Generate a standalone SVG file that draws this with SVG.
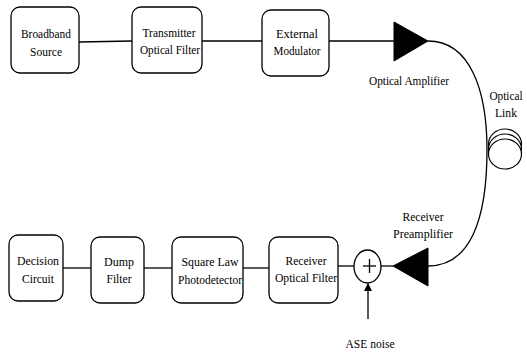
<svg xmlns="http://www.w3.org/2000/svg" width="527" height="352" viewBox="0 0 527 352">
<style>
.box{fill:#fff;stroke:#000;stroke-width:1.3}
.ln{fill:none;stroke:#000;stroke-width:1.3}
.t{font-family:'Liberation Serif','Times New Roman','DejaVu Serif',serif;font-size:13px;fill:#000;text-anchor:middle}
.tri{fill:#000;stroke:#000;stroke-width:1}
.coil{fill:#fff;stroke:#000;stroke-width:1.2}
</style>
<defs>
<marker id="ah" markerWidth="8" markerHeight="8" refX="7" refY="4" orient="auto" markerUnits="userSpaceOnUse">
<path d="M0,0 L8,4 L0,8 Z" fill="#000"/>
</marker>
</defs>
<rect width="527" height="352" fill="#fff"/>
<g id="connectors">
<line class="ln" x1="79" y1="42" x2="132" y2="41"/>
<line class="ln" x1="202" y1="41" x2="262" y2="41"/>
<line class="ln" x1="329" y1="41" x2="394" y2="41"/>
<path class="ln" d="M428,41 C470,41 487,90 487,150 C487,220 470,266 428,266"/>
<line class="ln" x1="393" y1="266" x2="381" y2="266"/>
<line class="ln" x1="354" y1="266" x2="338" y2="266"/>
<line class="ln" x1="243" y1="268" x2="269" y2="268"/>
<line class="ln" x1="144" y1="268" x2="172" y2="268"/>
<line class="ln" x1="63" y1="268" x2="91" y2="268"/>
<line class="ln" x1="368" y1="319" x2="368" y2="284" marker-end="url(#ah)"/>
</g>
<g id="broadband-source">
<rect class="box" x="11" y="7" width="68" height="66" rx="9"/>
<text class="t" x="46" y="38" textLength="50" lengthAdjust="spacingAndGlyphs">Broadband</text>
<text class="t" x="46" y="56" textLength="32" lengthAdjust="spacingAndGlyphs">Source</text>
</g>
<g id="transmitter-optical-filter">
<rect class="box" x="132" y="7" width="70" height="66" rx="9"/>
<text class="t" x="169" y="37" textLength="53" lengthAdjust="spacingAndGlyphs">Transmitter</text>
<text class="t" x="170" y="54" textLength="60" lengthAdjust="spacingAndGlyphs">Optical Filter</text>
</g>
<g id="external-modulator">
<rect class="box" x="262" y="10" width="67" height="66" rx="9"/>
<text class="t" x="297" y="38" textLength="42" lengthAdjust="spacingAndGlyphs">External</text>
<text class="t" x="297" y="55" textLength="47" lengthAdjust="spacingAndGlyphs">Modulator</text>
</g>
<g id="optical-amplifier">
<path class="tri" d="M394,22 L428,41 L394,61 Z"/>
<text class="t" x="409" y="85" textLength="80" lengthAdjust="spacingAndGlyphs">Optical Amplifier</text>
</g>
<g id="optical-link">
<ellipse class="coil" cx="505" cy="144" rx="16.5" ry="15"/>
<ellipse class="coil" cx="505" cy="149" rx="16.5" ry="15"/>
<ellipse class="coil" cx="505" cy="154" rx="16.5" ry="15"/>
<text class="t" x="506" y="100" font-size="12.5" textLength="33" lengthAdjust="spacingAndGlyphs">Optical</text>
<text class="t" x="506" y="117" font-size="12.5" textLength="22" lengthAdjust="spacingAndGlyphs">Link</text>
</g>
<g id="receiver-preamplifier">
<path class="tri" d="M428,248 L393,266 L428,286 Z"/>
<text class="t" x="423" y="221" textLength="41" lengthAdjust="spacingAndGlyphs">Receiver</text>
<text class="t" x="423" y="238" textLength="60" lengthAdjust="spacingAndGlyphs">Preamplifier</text>
</g>
<g id="adder">
<ellipse class="box" cx="367.5" cy="266.5" rx="13.5" ry="16.5"/>
<line class="ln" x1="363" y1="266" x2="376" y2="266" stroke-width="1.5"/>
<line class="ln" x1="369.5" y1="259" x2="369.5" y2="273" stroke-width="1.5"/>
</g>
<g id="ase-noise">
<text class="t" x="370" y="348" textLength="49" lengthAdjust="spacingAndGlyphs">ASE noise</text>
</g>
<g id="receiver-optical-filter">
<rect class="box" x="269" y="237" width="69" height="66" rx="9"/>
<text class="t" x="306" y="265" textLength="41" lengthAdjust="spacingAndGlyphs">Receiver</text>
<text class="t" x="306" y="282" textLength="62" lengthAdjust="spacingAndGlyphs">Optical Filter</text>
</g>
<g id="square-law-photodetector">
<rect class="box" x="172" y="237" width="71" height="66" rx="9"/>
<text class="t" x="210" y="266" textLength="57" lengthAdjust="spacingAndGlyphs">Square Law</text>
<text class="t" x="210" y="284" textLength="64" lengthAdjust="spacingAndGlyphs">Photodetector</text>
</g>
<g id="dump-filter">
<rect class="box" x="91" y="237" width="53" height="66" rx="9"/>
<text class="t" x="119" y="266" textLength="30" lengthAdjust="spacingAndGlyphs">Dump</text>
<text class="t" x="119" y="283" textLength="25" lengthAdjust="spacingAndGlyphs">Filter</text>
</g>
<g id="decision-circuit">
<rect class="box" x="9" y="235" width="54" height="66" rx="9"/>
<text class="t" x="38" y="265" textLength="42" lengthAdjust="spacingAndGlyphs">Decision</text>
<text class="t" x="38" y="283" textLength="32" lengthAdjust="spacingAndGlyphs">Circuit</text>
</g>
</svg>
